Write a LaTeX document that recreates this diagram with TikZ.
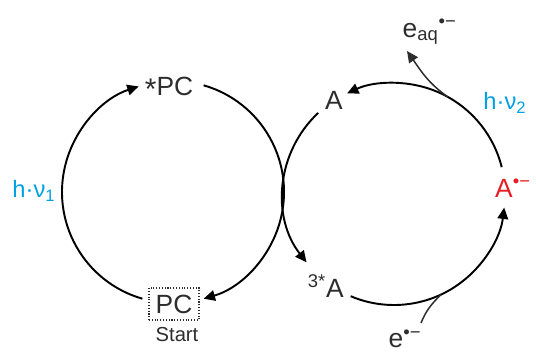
\documentclass[tikz,border=0pt]{standalone}
\usepackage{fontspec}
\setmainfont{Liberation Sans}
\usetikzlibrary{arrows.meta}
\definecolor{hvblue}{RGB}{0,160,227}
\definecolor{radred}{RGB}{230,30,36}
\definecolor{labgray}{RGB}{45,45,45}
\tikzset{
  cyc/.style={line width=1.1pt, draw=black, -{Triangle[length=6.5pt,width=6pt]}},
  side/.style={line width=0.85pt, draw=labgray},
  spec/.style={font=\fontsize{15}{17}\selectfont, text=labgray, inner sep=1pt},
  light/.style={font=\fontsize{13.5}{15}\selectfont, text=hvblue, inner sep=1pt},
  startbox/.style={draw=labgray, densely dotted, line width=0.6pt, minimum width=1cm, minimum height=0.64cm},
}

\begin{document}
\begin{tikzpicture}[x=0.02cm, y=0.02cm]
\useasboundingbox (0,0) rectangle (536,352);
\coordinate (lc) at (173,160);
\coordinate (rc) at (394,158);
\node[spec] (pcx) at (169,264) {\raisebox{-0.15em}{\fontsize{17}{17}\selectfont*}PC};
\node[spec, startbox] (pc) at (174,48) {PC};
\node[font=\fontsize{11.5}{13}\selectfont, text=labgray, inner sep=1pt] (start) at (177,17) {Start};
\node[light] (hv1) at (34,161) {h·ν\textsubscript{1}};
\node[light] (hv2) at (505,249) {h·ν\textsubscript{2}};
\node[spec] (a) at (334,252) {A};
\node[spec] (ta) at (335,66) {\llap{\textsuperscript{3*}}A};
\node[spec, text=radred] (ar) at (504,164) {A\rlap{\textsuperscript{•−}}};
\node[spec] (eaq) at (410,320) {e\rlap{\textsubscript{aq}\textsuperscript{•−}}};
\node[spec] (e) at (396,13) {e\rlap{\textsuperscript{•−}}};
\coordinate (eaqtip) at (407,301);
\coordinate (ein) at (421,29);
\draw[cyc] ([shift={(74:111)}]lc) arc[start angle=74, end angle=-74, radius=111];
\draw[cyc] ([shift={(254:111)}]lc) arc[start angle=254, end angle=108, radius=111];
\draw[cyc] ([shift={(14:111)}]rc) arc[start angle=14, end angle=115, radius=111];
\draw[cyc] ([shift={(133:111)}]rc) arc[start angle=133, end angle=218, radius=111];
\draw[cyc] ([shift={(247:111)}]rc) arc[start angle=247, end angle=353, radius=111];
\draw[side, -{Triangle[length=6.5pt,width=6pt]}] ([shift={(61:111)}]rc) to[out=145, in=-55] (eaqtip);
\draw[side] (ein) to[out=68, in=225] ([shift={(-65:111)}]rc);
\end{tikzpicture}
\end{document}
